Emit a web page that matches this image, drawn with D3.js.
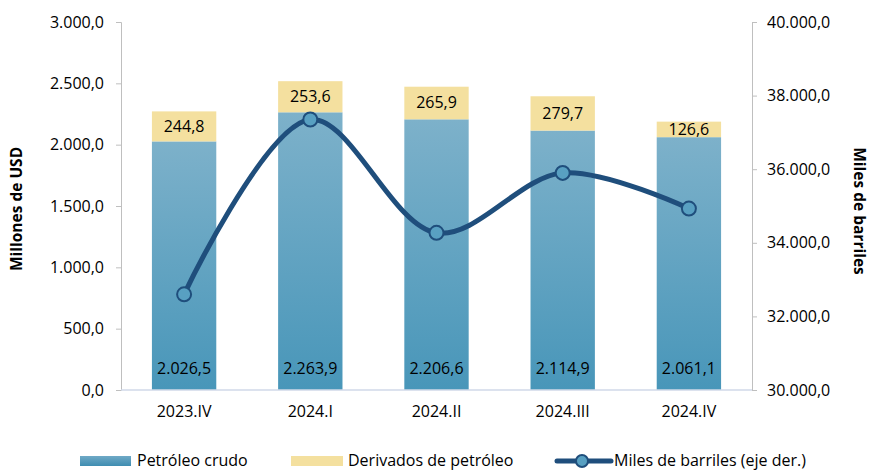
<!DOCTYPE html>
<html>
<head>
<meta charset="utf-8">
<script src="https://cdn.jsdelivr.net/npm/d3@7"></script>
<style>
  body { margin: 0; background: #fff; }
  text { font-family: "Open Sans", sans-serif; fill: #000; }
</style>
</head>
<body>
<div id="chart"></div>
<script>
// chart data
categories = ["2023.IV", "2024.I", "2024.II", "2024.III", "2024.IV"];
crudo = [2026.5, 2263.9, 2206.6, 2114.9, 2061.1];
derivados = [244.8, 253.6, 265.9, 279.7, 126.6];
barriles = [32600, 37350, 34270, 35900, 34930];
leftTicks = [0, 500, 1000, 1500, 2000, 2500, 3000];
rightTicks = [30000, 32000, 34000, 36000, 38000, 40000];

var width = 871, height = 470;
var margin = { top: 22, left: 121, right: 119, bottom: 80 };
var plotW = width - margin.left - margin.right;
var plotH = height - margin.top - margin.bottom;
var fs = "16px";

function fmt(v) {
    // 1.234,5 style
    var s = v.toFixed(1).split(".");
    var ent = s[0].replace(/\B(?=(\d{3})+(?!\d))/g, ".");
    return ent + "," + s[1];
}

var svg = d3.select("#chart").append("svg")
    .attr("width", width)
    .attr("height", height);

var defs = svg.append("defs");
var grad = defs.append("linearGradient")
    .attr("id", "crudoGrad")
    .attr("x1", 0).attr("y1", 0).attr("x2", 0).attr("y2", 1);
grad.append("stop").attr("offset", "0%").attr("stop-color", "#7db1ca");
grad.append("stop").attr("offset", "100%").attr("stop-color", "#4896b9");

var legGrad = defs.append("linearGradient")
    .attr("id", "legGrad")
    .attr("x1", 0).attr("y1", 0).attr("x2", 0).attr("y2", 1);
legGrad.append("stop").attr("offset", "0%").attr("stop-color", "#6fa9c6");
legGrad.append("stop").attr("offset", "100%").attr("stop-color", "#3f8db1");

var g = svg.append("g").attr("transform", "translate(" + margin.left + "," + margin.top + ")");

var x = d3.scaleBand().domain(categories).range([0, plotW]).paddingInner(0.49).paddingOuter(0.245);
var yL = d3.scaleLinear().domain([0, 3000]).range([plotH, 0]);
var yR = d3.scaleLinear().domain([30000, 40000]).range([plotH, 0]);

// axes
var leftAxis = g.append("g")
    .call(d3.axisLeft(yL).tickValues(leftTicks).tickSize(5).tickPadding(12).tickFormat(fmt));
var rightAxis = g.append("g")
    .attr("transform", "translate(" + plotW + ",0)")
    .call(d3.axisRight(yR).tickValues(rightTicks).tickSize(5).tickPadding(10).tickFormat(fmt));
[leftAxis, rightAxis].forEach(function (a) {
    a.select(".domain").attr("stroke", "#bfbfbf");
    a.selectAll(".tick line").attr("stroke", "#bfbfbf");
    a.selectAll(".tick text").style("font-size", fs).attr("fill", "#000");
});

// bars
var bars = g.selectAll(".bar").data(categories).enter().append("g").attr("class", "bar");
bars.append("rect")
    .attr("x", function (d) { return x(d); })
    .attr("width", x.bandwidth())
    .attr("y", function (d, i) { return yL(crudo[i]); })
    .attr("height", function (d, i) { return plotH - yL(crudo[i]); })
    .attr("fill", "url(#crudoGrad)");
bars.append("rect")
    .attr("x", function (d) { return x(d); })
    .attr("width", x.bandwidth())
    .attr("y", function (d, i) { return yL(crudo[i] + derivados[i]); })
    .attr("height", function (d, i) { return yL(crudo[i]) - yL(crudo[i] + derivados[i]); })
    .attr("fill", "#f4e09f");

bars.append("text")
    .attr("x", function (d) { return x(d) + x.bandwidth() / 2; })
    .attr("y", plotH - 20)
    .attr("text-anchor", "middle")
    .attr("dominant-baseline", "middle")
    .style("font-size", fs)
    .text(function (d, i) { return fmt(crudo[i]); });
bars.append("text")
    .attr("x", function (d) { return x(d) + x.bandwidth() / 2; })
    .attr("y", function (d, i) { return (yL(crudo[i]) + yL(crudo[i] + derivados[i])) / 2 + 1; })
    .attr("text-anchor", "middle")
    .attr("dominant-baseline", "middle")
    .style("font-size", fs)
    .text(function (d, i) { return fmt(derivados[i]); });

// x axis line
g.append("line")
    .attr("x1", 0).attr("x2", plotW)
    .attr("y1", plotH).attr("y2", plotH)
    .attr("stroke", "#d0d8e8").attr("stroke-width", 1.5);

g.selectAll(".xlab").data(categories).enter().append("text")
    .attr("x", function (d) { return x(d) + x.bandwidth() / 2; })
    .attr("y", plotH + 23)
    .attr("text-anchor", "middle")
    .attr("dominant-baseline", "middle")
    .style("font-size", fs)
    .text(function (d) { return d; });

// line
var line = d3.line()
    .x(function (d, i) { return x(categories[i]) + x.bandwidth() / 2; })
    .y(function (d) { return yR(d); })
    .curve(d3.curveCatmullRom.alpha(0.5));

g.append("path")
    .datum(barriles)
    .attr("d", line)
    .attr("fill", "none")
    .attr("stroke", "#1f4e7c")
    .attr("stroke-width", 5);

g.selectAll(".dot").data(barriles).enter().append("circle")
    .attr("cx", function (d, i) { return x(categories[i]) + x.bandwidth() / 2; })
    .attr("cy", function (d) { return yR(d); })
    .attr("r", 7)
    .attr("fill", "#58a0c2")
    .attr("stroke", "#1f4e7c")
    .attr("stroke-width", 2);

// axis titles
svg.append("text")
    .attr("transform", "translate(22," + (margin.top + plotH / 2 + 3) + ") rotate(-90)")
    .attr("text-anchor", "middle")
    .style("font-size", "15.5px").style("font-weight", "bold")
    .text("Millones de USD");
svg.append("text")
    .attr("transform", "translate(854," + (margin.top + plotH / 2 + 5) + ") rotate(90)")
    .attr("text-anchor", "middle")
    .style("font-size", "15.5px").style("font-weight", "bold")
    .text("Miles de barriles");

// legend
var leg = svg.append("g").attr("transform", "translate(0,461)");
leg.append("rect").attr("x", 80).attr("y", -5).attr("width", 51).attr("height", 10).attr("fill", "url(#legGrad)");
leg.append("text").attr("x", 137).attr("y", 1).attr("dominant-baseline", "middle").style("font-size", fs).text("Petróleo crudo");
leg.append("rect").attr("x", 291).attr("y", -5).attr("width", 52).attr("height", 10).attr("fill", "#f4e09f");
leg.append("text").attr("x", 348).attr("y", 1).attr("dominant-baseline", "middle").style("font-size", fs).text("Derivados de petróleo");
leg.append("line").attr("x1", 557).attr("x2", 611).attr("y1", 0).attr("y2", 0)
    .attr("stroke", "#1f4e7c").attr("stroke-width", 5).attr("stroke-linecap", "round");
leg.append("circle").attr("cx", 582).attr("cy", 0).attr("r", 6)
    .attr("fill", "#58a0c2").attr("stroke", "#1f4e7c").attr("stroke-width", 2);
leg.append("text").attr("x", 614).attr("y", 1).attr("dominant-baseline", "middle").style("font-size", fs).text("Miles de barriles (eje der.)");
</script>
</body>
</html>
